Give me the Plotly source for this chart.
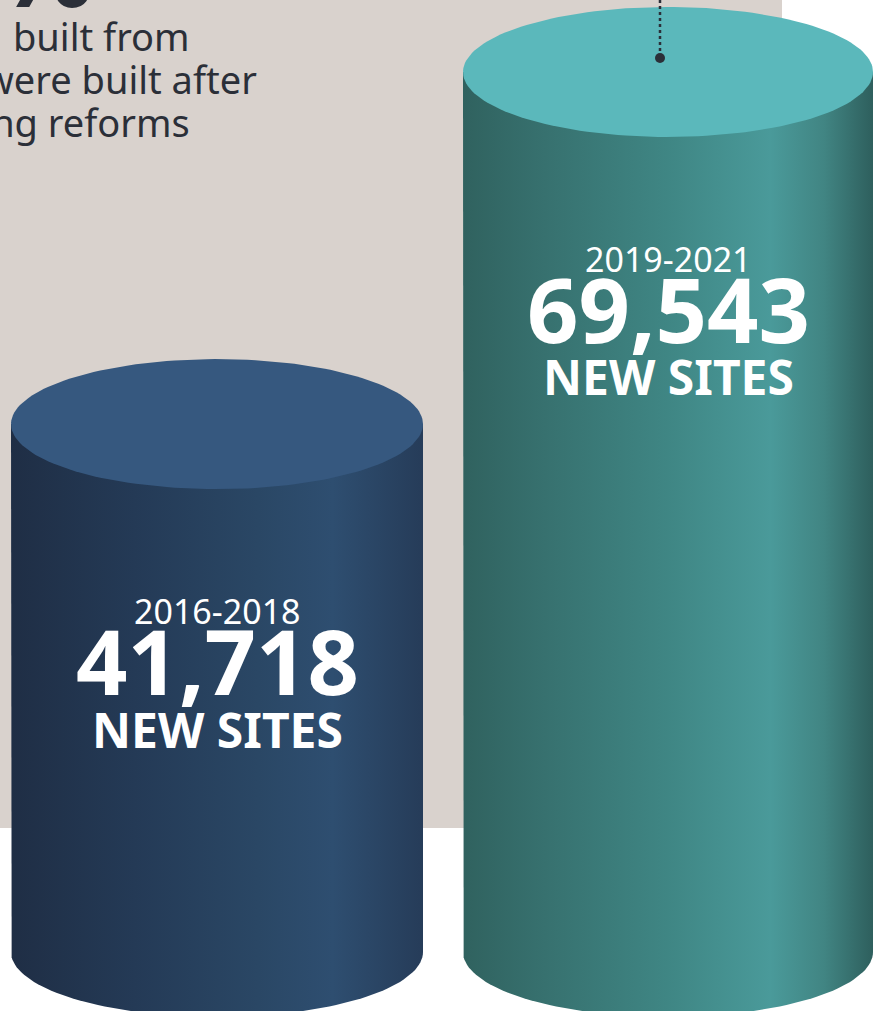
import numpy as np
import plotly.graph_objects as go

# ---------------- data ----------------
periods = ["2016-2018", "2019-2021"]
new_sites = [41718, 69543]
value_labels = ["41,718", "69,543"]
unit_label = "NEW SITES"
intro_lines = ["built from", "were built after", "zoning reforms"]
big_fragment = "%"

# ---------------- layout / style ----------------
W, H = 875, 1011
Y_MIN, Y_MAX = -4660, 75230          # value axis range (bottom -> top of page)
PX_PER_UNIT = H / (Y_MAX - Y_MIN)
x_centers = [217, 668]
half_widths = [206, 205]
RY = 65 / PX_PER_UNIT                 # ellipse half-height in value units

side_scales = [
    [[0, "#1f2e45"], [0.3, "#243a56"], [0.6, "#2a4765"], [0.78, "#2e4e70"], [1, "#263c59"]],
    [[0, "#30625f"], [0.2, "#37716f"], [0.5, "#3f8684"], [0.75, "#4a9a9a"], [0.88, "#418583"], [1, "#2e5f5d"]],
]
top_colors = ["#36587f", "#5bb8bb"]
BG_GRAY = "#d9d2cd"
TEXT_DARK = "#2b2f38"
FONT = "Noto Sans"

fig = go.Figure()

t_half = np.linspace(0, np.pi, 80)
t_full = np.linspace(0, 2 * np.pi, 160)

for i, v in enumerate(new_sites):
    xc, hw = x_centers[i], half_widths[i]
    # side body: left edge down, bottom half-ellipse, right edge up
    bx = np.concatenate([[xc - hw], xc - hw * np.cos(t_half), [xc + hw]])
    by = np.concatenate([[v], 0 - RY * np.sin(t_half), [v]])
    fig.add_trace(go.Scatter(
        x=bx, y=by, mode="lines", fill="toself", line=dict(width=0),
        fillgradient=dict(type="horizontal", colorscale=side_scales[i]),
        hoverinfo="skip", showlegend=False))
    # top ellipse
    fig.add_trace(go.Scatter(
        x=xc + hw * np.cos(t_full), y=v + RY * np.sin(t_full),
        mode="lines", fill="toself", fillcolor=top_colors[i], line=dict(width=0),
        hoverinfo="skip", showlegend=False))
    # labels
    off = [187, 236, 305]
    fig.add_annotation(x=xc, y=v - off[0] / PX_PER_UNIT, xref="x", yref="y",
                       text=periods[i], showarrow=False, yanchor="middle",
                       font=dict(family=FONT, size=34, color="white"))
    fig.add_annotation(x=xc, y=v - off[1] / PX_PER_UNIT, xref="x", yref="y",
                       text=value_labels[i], showarrow=False, yanchor="middle",
                       font=dict(family=FONT, size=90, color="white", weight=700))
    fig.add_annotation(x=xc, y=v - off[2] / PX_PER_UNIT, xref="x", yref="y",
                       text=unit_label, showarrow=False, yanchor="middle",
                       font=dict(family=FONT, size=48, color="white", weight=700))

# dotted pointer to the taller cylinder
fig.add_trace(go.Scatter(
    x=[660, 660], y=[Y_MAX, new_sites[1] + 14 / PX_PER_UNIT],
    mode="lines", line=dict(color=TEXT_DARK, width=2.5, dash="dot"),
    hoverinfo="skip", showlegend=False))
fig.add_trace(go.Scatter(
    x=[660], y=[new_sites[1] + 14 / PX_PER_UNIT], mode="markers",
    marker=dict(color=TEXT_DARK, size=10), hoverinfo="skip", showlegend=False))

# intro text (partially cut by the left edge)
right_edges = [192, 259, 192]
line_mids = [36, 79, 122]
for line, rx, ym in zip(intro_lines, right_edges, line_mids):
    fig.add_annotation(x=rx / W, y=1 - ym / H, xref="paper", yref="paper",
                       text=line, showarrow=False, xanchor="right", yanchor="middle",
                       font=dict(family=FONT, size=38, color=TEXT_DARK))
fig.add_annotation(x=96 / W, y=1 - 41 / H, xref="paper", yref="paper",
                   text=big_fragment, showarrow=False, xanchor="right", yanchor="bottom",
                   font=dict(family=FONT, size=110, color=TEXT_DARK, weight=700))

# gray panel behind
fig.add_shape(type="rect", xref="paper", yref="paper", x0=0, x1=782 / W,
              y0=1 - 828 / H, y1=1.02, fillcolor=BG_GRAY, line=dict(width=0),
              layer="below")

fig.update_layout(
    width=W, height=H, margin=dict(l=0, r=0, t=0, b=0),
    paper_bgcolor="white", plot_bgcolor="rgba(0,0,0,0)",
    xaxis=dict(range=[0, W], visible=False, fixedrange=True),
    yaxis=dict(range=[Y_MIN, Y_MAX], visible=False, fixedrange=True),
    showlegend=False,
)
fig.write_html("out.html", config={"displayModeBar": False},
               post_script="document.body.style.margin='0px';document.body.style.overflow='hidden';")
